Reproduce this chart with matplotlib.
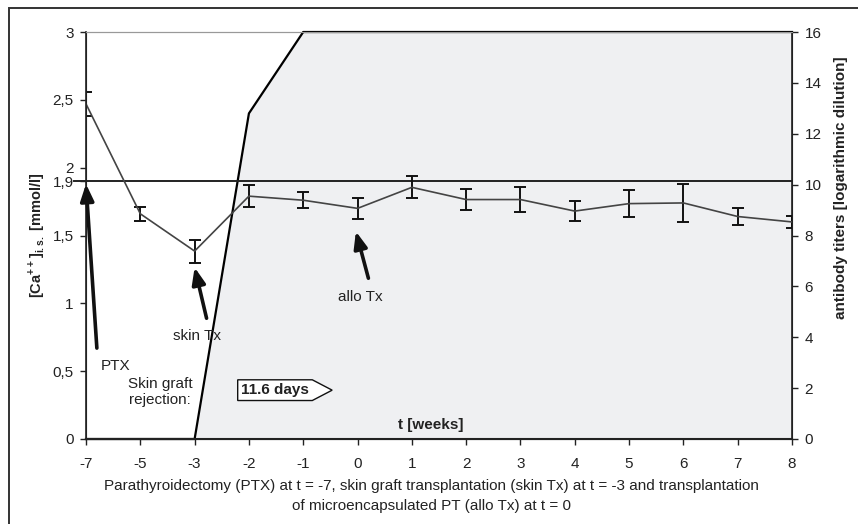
import matplotlib

matplotlib.use("Agg")
import matplotlib.pyplot as plt
import numpy as np
from matplotlib.patches import Rectangle
from matplotlib.path import Path

plt.rcParams["font.family"] = ["Liberation Sans", "DejaVu Sans"]
plt.rcParams["mathtext.fontset"] = "custom"
plt.rcParams["mathtext.rm"] = "Liberation Sans"
plt.rcParams["mathtext.bf"] = "Liberation Sans:bold"

# weeks relative to allo Tx
weeks = ["-7", "-5", "-3", "-2", "-1", "0", "1", "2", "3", "4", "5", "6", "7", "8"]
ca_mean = [2.47, 1.66, 1.385, 1.79, 1.76, 1.70, 1.855, 1.765, 1.765, 1.68, 1.735, 1.74, 1.64, 1.60]
ca_err = [0.09, 0.05, 0.085, 0.083, 0.06, 0.075, 0.08, 0.08, 0.092, 0.074, 0.098, 0.138, 0.06, 0.047]
titers = [0, 0, 0, 12.8, 16, 16, 16, 16, 16, 16, 16, 16, 16, 16]

left_ticks = [0, 0.5, 1, 1.5, 1.9, 2, 2.5, 3]
left_labels = ["0", "0,5", "1", "1,5", "1,9", "2", "2,5", "3"]
right_ticks = [0, 2, 4, 6, 8, 10, 12, 14, 16]

TXT = "#222222"


def tag_box(x0, y0, width, height, mutation_size):
    # rectangle with a pointed right end, like the "11.6 days" label
    pad = 0.22 * mutation_size
    x0, y0 = x0 - pad, y0 - pad
    x1, y1 = x0 + width + 2 * pad, y0 + height + 2 * pad
    tip = x1 + 1.3 * mutation_size
    ym = (y0 + y1) / 2
    verts = [(x0, y0), (x1, y0), (tip, ym), (x1, y1), (x0, y1), (x0, y0)]
    codes = [Path.MOVETO] + [Path.LINETO] * 4 + [Path.CLOSEPOLY]
    return Path(verts, codes)


def main() -> None:
    fig = plt.figure(figsize=(8.58, 5.24), dpi=100)
    ax = fig.add_axes([86 / 858, 1 - 439 / 524, 706 / 858, 407 / 524])
    ax2 = ax.twinx()

    x = np.arange(len(weeks))

    # antibody titers as grey area
    ax2.fill_between(x, titers, color="#eff0f2", linewidth=0)
    ax2.plot(x, titers, color="black", linewidth=1.6, clip_on=False, zorder=3)
    ax2.set_ylim(0, 16)
    ax2.set_yticks(right_ticks)
    ax2.set_ylabel("antibody titers [logarithmic dilution]", fontsize=11, fontweight="bold", color=TXT)
    ax2.yaxis.set_label_coords(1.059, 0.617)

    ax.set_zorder(ax2.get_zorder() + 1)
    ax.patch.set_visible(False)

    ax.axhline(1.9, xmin=-12 / 706, xmax=1, color=TXT, linewidth=1.4, clip_on=False)
    ax.errorbar(x, ca_mean, yerr=ca_err, color="#444444", linewidth=1.2,
                ecolor="#111111", elinewidth=1.4, capsize=4, capthick=1.4)

    ax.set_xlim(0, len(weeks) - 1)
    ax.set_ylim(0, 3)
    ax.set_xticks(x)
    ax.set_xticklabels(weeks)
    ax.set_yticks(left_ticks)
    ax.set_yticklabels(left_labels)
    ax.set_ylabel(r"[Ca$^{\mathbf{++}}$]$_{\mathbf{i.s.}}$ [mmol/l]", fontsize=10.5,
                  fontweight="bold", color=TXT)
    ax.yaxis.set_label_coords(-0.055, 0.5)

    for a in (ax, ax2):
        a.tick_params(direction="out", length=4, width=1, labelsize=11, colors=TXT, pad=5)
    ax.tick_params(axis="x", pad=9)
    for side in ("left", "bottom", "right"):
        ax2.spines[side].set_color(TXT)
        ax.spines[side].set_color(TXT)
    ax.spines["left"].set_linewidth(1.2)
    ax.spines["bottom"].set_linewidth(1.5)
    ax2.spines["right"].set_linewidth(1.2)
    ax.spines["top"].set_color("#999999")
    ax2.spines["top"].set_color("#999999")

    # arrows and labels
    arrow = dict(arrowstyle="-|>,head_length=1.0,head_width=0.4", color="#111111", linewidth=2.6,
                 shrinkA=0, shrinkB=0)
    ax.annotate("", xy=(0.0, 1.88), xytext=(0.2, 0.67), arrowprops=arrow, annotation_clip=False)
    ax.text(0.55, 0.54, "PTX", ha="center", va="center", fontsize=11, color=TXT)
    ax.annotate("", xy=(2.0, 1.265), xytext=(2.22, 0.89), arrowprops=arrow)
    ax.text(2.04, 0.76, "skin Tx", ha="center", va="center", fontsize=11, color=TXT)
    ax.annotate("", xy=(4.97, 1.53), xytext=(5.2, 1.185), arrowprops=arrow)
    ax.text(5.05, 1.045, "allo Tx", ha="center", va="center", fontsize=11, color=TXT)

    ax.text(1.36, 0.344, "Skin graft\nrejection:", ha="center", va="center", fontsize=11,
            color=TXT, linespacing=1.2)
    ax.text(3.48, 0.36, "11.6 days", ha="center", va="center", fontsize=11, fontweight="bold",
            color=TXT, bbox=dict(boxstyle=tag_box, fc="white", ec="#111111", lw=1))
    ax.text(6.35, 0.1, "t [weeks]", ha="center", va="center", fontsize=11, fontweight="bold",
            color=TXT)

    fig.text(431 / 858, 1 - 479 / 524,
             "Parathyroidectomy (PTX) at t = -7, skin graft transplantation (skin Tx) at t = -3 and transplantation\n"
             "of microencapsulated PT (allo Tx) at t = 0",
             ha="center", va="top", fontsize=11, color=TXT, linespacing=1.55)

    # outer frame (only top and left visible)
    fig.add_artist(Rectangle((9 / 858, -0.1), 1.2, 1.1 - 8 / 524, transform=fig.transFigure,
                             fill=False, edgecolor="#333333", linewidth=1.4))

    fig.savefig("out.png", dpi=100)


if __name__ == "__main__":
    main()
